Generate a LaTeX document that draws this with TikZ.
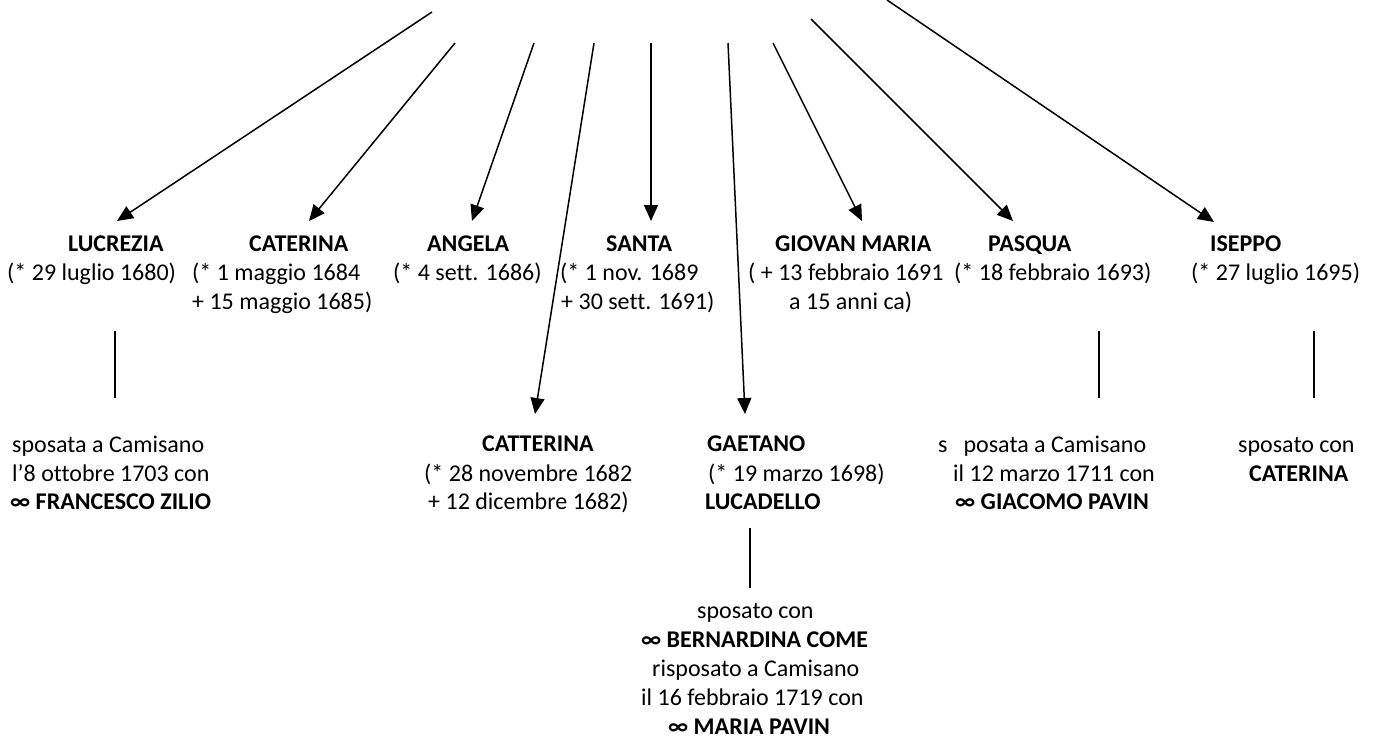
\documentclass[tikz,border=0pt]{standalone}
\usepackage{fontspec}
\setmainfont[Ligatures=NoCommon]{Carlito}
\usetikzlibrary{arrows.meta}
\begin{document}
\begin{tikzpicture}[x=1pt,y=-1pt,
  txt/.style={anchor=base west,inner sep=0pt,font=\fontsize{24}{29}\selectfont},
  nm/.style={anchor=base west,inner sep=0pt,font=\fontsize{24}{29}\selectfont\bfseries},
  arr/.style={line width=1.5pt,-{Triangle[length=16pt,width=14pt]}},
  ln/.style={line width=1.5pt}]
\useasboundingbox (0,0) rectangle (1378,740);
% arrow start points (parent, off picture)
\coordinate (s1) at (432,12);
\coordinate (s2) at (455,43);
\coordinate (s3) at (534,43);
\coordinate (s4) at (594,43);
\coordinate (s5) at (651,43);
\coordinate (s6) at (728,43);
\coordinate (s7) at (773,43);
\coordinate (s8) at (811,19);
\coordinate (s9) at (887,0);
% arrow tips
\coordinate (t1) at (117,221);
\coordinate (t2) at (309,221);
\coordinate (t3) at (472,221);
\coordinate (t4) at (535,414);
\coordinate (t5) at (651,221);
\coordinate (t6) at (745,414);
\coordinate (t7) at (862,221);
\coordinate (t8) at (1013,221);
\coordinate (t9) at (1214,222);
\foreach \i in {1,...,9} {\draw[arr] (s\i) -- (t\i);}

% LUCREZIA
\node[nm]  (lucN) at (68,251) {LUCREZIA};
\node[txt] (lucD) at (7,280) {(* 29 luglio 1680)};
\coordinate (lucA) at (115,331);
\coordinate (lucB) at (115,398);
\draw[ln] (lucA) -- (lucB);
\node[txt] (lucM1) at (12,452) {sposata a Camisano};
\node[txt] (lucM2) at (12,481) {l’8 ottobre 1703 con};
\node[nm]  (lucM3) at (10,509) {∞ FRANCESCO ZILIO};

% CATERINA
\node[nm]  (catN) at (249,251) {CATERINA};
\node[txt] (catD1) at (192,280) {(* 1 maggio 1684};
\node[txt] (catD2) at (192,309) {+ 15 maggio 1685)};

% ANGELA
\node[nm]  (angN) at (427,251) {ANGELA};
\node[txt] (angD) at (393,280) {(* 4 sett. 1686)};

% SANTA
\node[nm]  (sanN) at (606,251) {SANTA};
\node[txt] (sanD1) at (560,280) {(* 1 nov. 1689};
\node[txt] (sanD2) at (561,309) {+ 30 sett. 1691)};

% GIOVAN MARIA
\node[nm]  (gioN) at (775,251) {GIOVAN MARIA};
\node[txt] (gioD1) at (748,280) {( + 13 febbraio 1691};
\node[txt] (gioD2) at (789,309) {a 15 anni ca)};

% PASQUA
\node[nm]  (pasN) at (988,251) {PASQUA};
\node[txt] (pasD) at (954,280) {(* 18 febbraio 1693)};
\coordinate (pasA) at (1099,331);
\coordinate (pasB) at (1099,398);
\draw[ln] (pasA) -- (pasB);
\node[txt] (pasM1) at (938,452) {s\hspace{16pt}posata a Camisano};
\node[txt] (pasM2) at (953,481) {il 12 marzo 1711 con};
\node[nm]  (pasM3) at (955,509) {∞ GIACOMO PAVIN};

% ISEPPO
\node[nm]  (iseN) at (1210,251) {ISEPPO};
\node[txt] (iseD) at (1191,280) {(* 27 luglio 1695)};
\coordinate (iseA) at (1314,331);
\coordinate (iseB) at (1314,398);
\draw[ln] (iseA) -- (iseB);
\node[txt] (iseM1) at (1238,452) {sposato con};
\node[nm]  (iseM2) at (1249,481) {CATERINA};

% CATTERINA
\node[nm]  (cttN) at (482,451) {CATTERINA};
\node[txt] (cttD1) at (424,481) {(* 28 novembre 1682};
\node[txt] (cttD2) at (428,509) {+ 12 dicembre 1682)};

% GAETANO
\node[nm]  (gaeN) at (707,451) {GAETANO};
\node[txt] (gaeD) at (708,481) {(* 19 marzo 1698)};
\node[nm]  (gaeS) at (705,509) {LUCADELLO};
\coordinate (gaeA) at (750,528);
\coordinate (gaeB) at (750,588);
\draw[ln] (gaeA) -- (gaeB);
\node[txt] (gaeM1) at (697,618) {sposato con};
\node[nm]  (gaeM2) at (641,647) {∞ BERNARDINA COME};
\node[txt] (gaeM3) at (652,676) {risposato a Camisano};
\node[txt] (gaeM4) at (641,705) {il 16 febbraio 1719 con};
\node[nm]  (gaeM5) at (668,734) {∞ MARIA PAVIN};
\end{tikzpicture}
\end{document}
